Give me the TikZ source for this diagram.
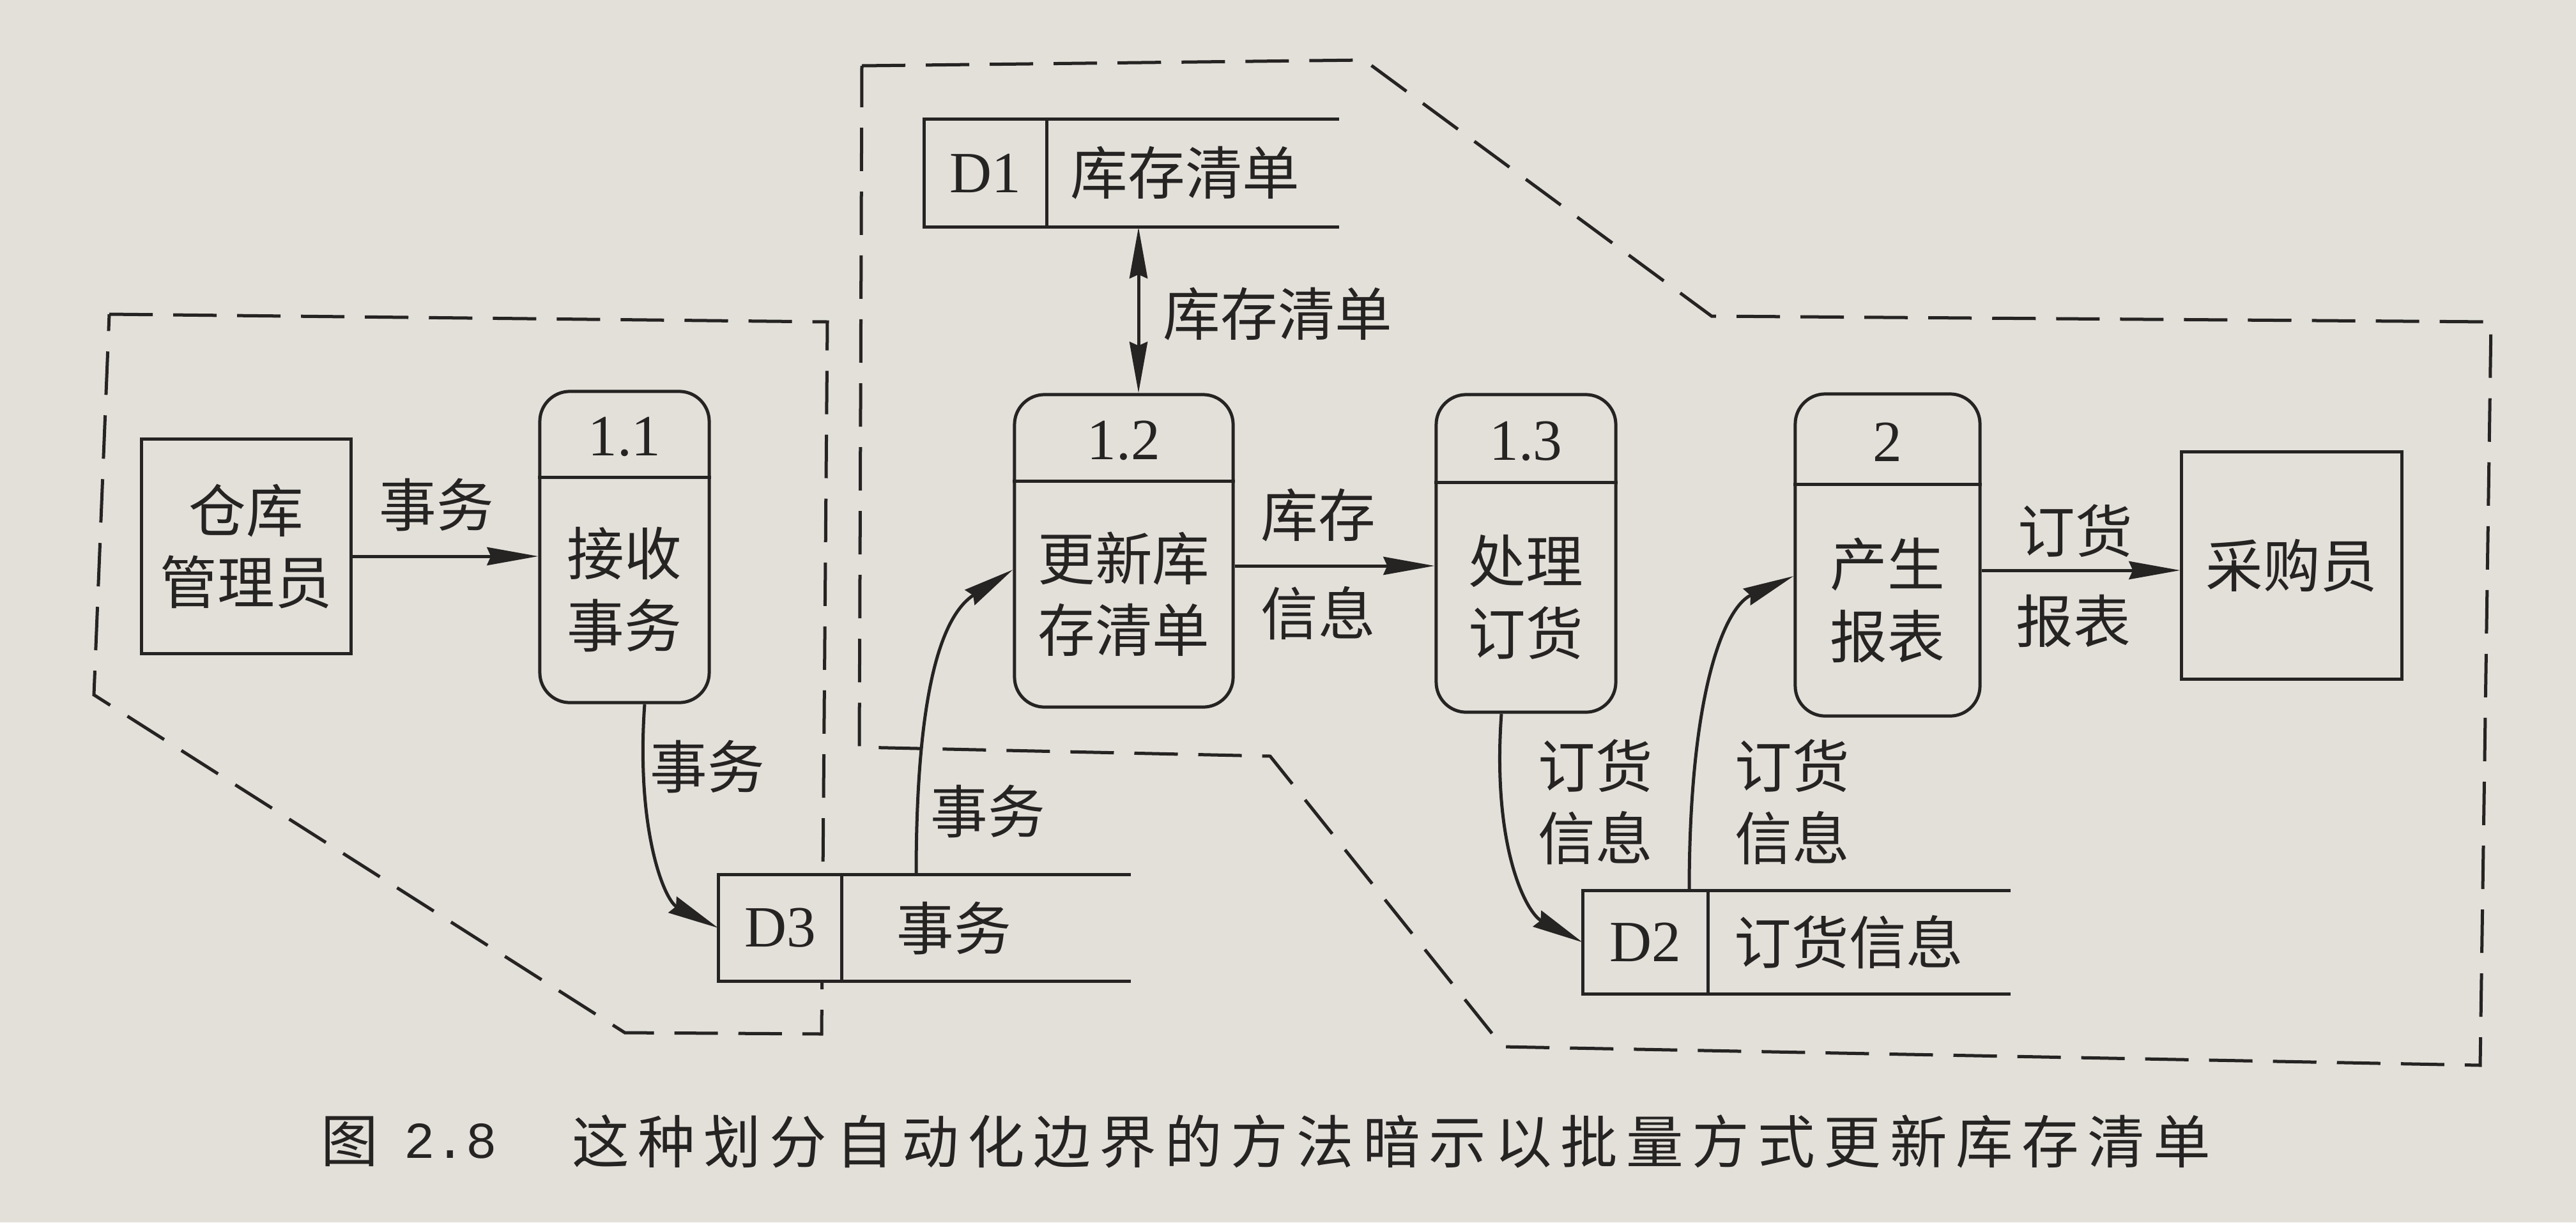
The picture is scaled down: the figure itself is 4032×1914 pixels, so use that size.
\documentclass[tikz,border=0pt]{standalone}
\usepackage{fontspec}
\setmainfont{Liberation Serif}
\newfontfamily\cjk{Noto Sans CJK SC}
\newfontfamily\capfont[LetterSpace=15]{Noto Sans CJK SC}
\newfontfamily\capmono{Liberation Mono}
\usetikzlibrary{arrows.meta,calc}
\definecolor{paper}{RGB}{226,224,217}
\definecolor{ink}{RGB}{38,35,35}
\tikzset{
  line/.style={draw=ink, line width=0.05cm},
  bound/.style={draw=ink, line width=0.05cm, dash pattern=on 0.68cm off 0.32cm},
  proc/.style={draw=ink, fill=paper, line width=0.05cm, rounded corners=0.47cm, inner sep=0pt},
  ent/.style={draw=ink, fill=paper, line width=0.05cm, inner sep=0pt},
  storefill/.style={fill=paper, inner sep=0pt},
  txt/.style={text=ink, font=\cjk\fontsize{25.5}{32}\selectfont, align=center, inner sep=0pt},
  num/.style={text=ink, font=\fontsize{26}{30}\selectfont, inner sep=0pt},
  arr/.style={line, -{Stealth[length=0.8cm, width=0.28cm, inset=0.06cm]}},
  darr/.style={line, {Stealth[length=0.8cm, width=0.28cm, inset=0.06cm]}-{Stealth[length=0.8cm, width=0.28cm, inset=0.06cm]}},
}
\begin{document}
\begin{tikzpicture}[x=0.01cm,y=-0.01cm]
\fill[paper] (0,0) rectangle (4032,1914);
\useasboundingbox (0,0) rectangle (4032,1914);
% automation boundaries
\draw[bound] (171,492) -- (1295,504) -- (1286,1619) -- (978,1617) -- (147,1088) -- cycle;
\draw[bound] (1349,103) -- (2135,94) -- (2679,495) -- (3899,504) -- (3882,1668) -- (2352,1639) -- (1988,1184) -- (1345,1170) -- cycle;
% external entities
\node[ent, txt, minimum width=3.27cm, minimum height=3.35cm] (mgr) at (385.5,855.5) {仓库\\管理员};
\node[ent, txt, minimum width=3.44cm, minimum height=3.55cm] (buyer) at (3587,885.5) {采购员};
% processes
\node[proc, minimum width=2.65cm, minimum height=4.87cm] (p11) at (977.5,856.5) {};
\draw[line] (p11.west |- 0,747) -- (p11.east |- 0,747);
\node[num] (p11n) at (977.5,684) {1.1};
\node[txt] (p11t) at (977.5,923) {接收\\事务};
\node[proc, minimum width=3.42cm, minimum height=4.89cm] (p12) at (1759,862.5) {};
\draw[line] (p12.west |- 0,753) -- (p12.east |- 0,753);
\node[num] (p12n) at (1759,690) {1.2};
\node[txt] (p12t) at (1759,930) {更新库\\存清单};
\node[proc, minimum width=2.81cm, minimum height=4.97cm] (p13) at (2388.5,866.5) {};
\draw[line] (p13.west |- 0,755) -- (p13.east |- 0,755);
\node[num] (p13n) at (2388.5,691) {1.3};
\node[txt] (p13t) at (2388.5,935) {处理\\订货};
\node[proc, minimum width=2.89cm, minimum height=5.04cm] (p2) at (2954.5,869) {};
\draw[line] (p2.west |- 0,758) -- (p2.east |- 0,758);
\node[num] (p2n) at (2954.5,692) {2};
\node[txt] (p2t) at (2954.5,940) {产生\\报表};
% data stores
\node[storefill, minimum width=6.44cm, minimum height=1.66cm] (d3) at (1447,1453) {};
\draw[line] (d3.north east) -- (d3.north west) -- (d3.south west) -- (d3.south east);
\draw[line] (d3.north -| 1317,0) -- (d3.south -| 1317,0);
\node[num] (d3id) at (1221,1453) {D3};
\node[txt, anchor=west] (d3t) at (1403,1453) {事务};
\node[storefill, minimum width=6.48cm, minimum height=1.68cm] (d1) at (1771,271) {};
\draw[line] (d1.north east) -- (d1.north west) -- (d1.south west) -- (d1.south east);
\draw[line] (d1.north -| 1638,0) -- (d1.south -| 1638,0);
\node[num] (d1id) at (1542,271) {D1};
\node[txt, anchor=west] (d1t) at (1675,271) {库存清单};
\node[storefill, minimum width=6.68cm, minimum height=1.61cm] (d2) at (2812,1475.5) {};
\draw[line] (d2.north east) -- (d2.north west) -- (d2.south west) -- (d2.south east);
\draw[line] (d2.north -| 2673,0) -- (d2.south -| 2673,0);
\node[num] (d2id) at (2575,1475.5) {D2};
\node[txt, anchor=west] (d2t) at (2714,1475.5) {订货信息};
% flows
\draw[arr] (mgr.east |- 0,871) -- (p11.west |- 0,871);
\draw[arr] (p11.south -| 1009,0) .. controls (995,1300) and (1040,1410) .. (d3.west);
\draw[arr] (d3.north -| 1434,0) .. controls (1434,1060) and (1480,960) .. (p12.west |- 0,892);
\draw[darr] (d1.south -| 1782,0) -- (p12.north -| 1782,0);
\draw[arr] (p12.east |- 0,886) -- (p13.west |- 0,886);
\draw[arr] (p13.south -| 2350,0) .. controls (2335,1330) and (2390,1430) .. (d2.west);
\draw[arr] (d2.north -| 2644,0) .. controls (2644,1080) and (2700,950) .. (p2.west |- 0,902);
\draw[arr] (p2.east |- 0,893) -- (buyer.west |- 0,893);
% flow labels
\node[txt] (la) at (683,790) {事务};
\node[txt] (lb) at (1107,1200) {事务};
\node[txt] (lc) at (1546,1270) {事务};
\node[txt] (ld) at (2000,492) {库存清单};
\node[txt] (le1) at (2063,807) {库存};
\node[txt] (le2) at (2063,960) {信息};
\node[txt] (lf) at (2497,1256) {订货\\信息};
\node[txt] (lg) at (2805,1256) {订货\\信息};
\node[txt] (lh1) at (3248,831) {订货};
\node[txt] (lh2) at (3245,972) {报表};
% caption
\node[text=ink, font=\cjk\fontsize{25.5}{30}\selectfont, inner sep=0pt] (capfig) at (547,1787) {图};
\node[text=ink, font=\capmono\fontsize{23}{30}\selectfont, inner sep=0pt] (capnum) at (705,1787) {2.8};
\node[text=ink, font=\capfont\fontsize{25.5}{30}\selectfont, inner sep=0pt, anchor=west] (captxt) at (895,1787) {这种划分自动化边界的方法暗示以批量方式更新库存清单};
\end{tikzpicture}
\end{document}
